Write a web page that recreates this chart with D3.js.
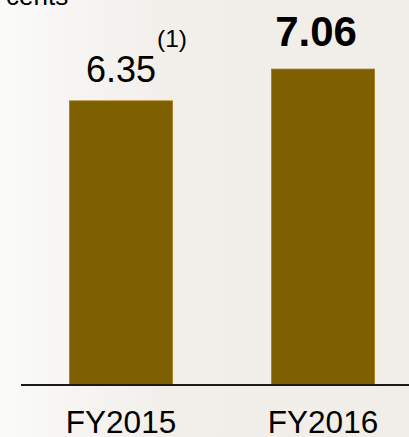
<!DOCTYPE html>
<html>
<head>
<meta charset="utf-8">
<script src="https://cdn.jsdelivr.net/npm/d3@7"></script>
<style>
  html, body { margin: 0; padding: 0; background: #f3f0ec; }
  svg { display: block; font-family: "Liberation Sans", Arial, sans-serif; }
</style>
</head>
<body>
<div id="chart"></div>
<script>
(() => {
    // datos
    const years = ["FY2015", "FY2016"];
    const values = [6.35, 7.06];
    const valueLabels = ["6.35", "7.06"];
    const notes = ["(1)", ""];
    const unit = "cents";

    const width = 409;
    const height = 437;

    const svg = d3.select("#chart")
        .append("svg")
        .attr("width", width)
        .attr("height", height);

    // fondo claro (imagen difuminada en el original)
    const grad = svg.append("defs").append("linearGradient")
        .attr("id", "bg").attr("x1", "0").attr("x2", "1");
    grad.append("stop").attr("offset", "0").attr("stop-color", "#fbfbfa");
    grad.append("stop").attr("offset", "0.15").attr("stop-color", "#f7f6f4");
    grad.append("stop").attr("offset", "0.4").attr("stop-color", "#f2efeb");
    grad.append("stop").attr("offset", "1").attr("stop-color", "#f1eee9");
    svg.append("rect")
        .attr("width", width)
        .attr("height", height)
        .attr("fill", "url(#bg)");

    const xScale = d3.scaleBand()
        .domain(years)
        .range([20, 424])
        .paddingInner(0.49)
        .paddingOuter(0.245);

    const yScale = d3.scaleLinear()
        .domain([0, 8])
        .range([385, 27]);

    // unidad arriba a la izquierda (cortada en el original)
    svg.append("text")
        .attr("x", 6)
        .attr("y", 5)
        .attr("font-size", 26)
        .attr("fill", "#000")
        .text(unit);

    // barras
    svg.selectAll("rect.bar")
        .data(values)
        .enter()
        .append("rect")
        .attr("class", "bar")
        .attr("x", (d, i) => xScale(years[i]))
        .attr("y", d => yScale(d))
        .attr("width", xScale.bandwidth())
        .attr("height", d => yScale(0) - yScale(d))
        .attr("fill", "#7f6000")
        .attr("stroke", "#a87810")
        .attr("stroke-width", 0.8);

    // eje x
    const xAxis = d3.axisBottom(xScale).tickSize(0).tickPadding(0);
    svg.append("g")
        .attr("class", "x-axis")
        .attr("transform", `translate(0, ${yScale(0)})`)
        .call(xAxis)
        .call(g => g.select(".domain").remove())
        .call(g => g.selectAll(".tick text")
            .attr("y", 48)
            .attr("dy", 0)
            .attr("font-size", 31.5)
            .attr("font-family", "Liberation Sans, Arial, sans-serif")
            .attr("fill", "#000"));

    svg.append("line")
        .attr("x1", 21)
        .attr("x2", width)
        .attr("y1", yScale(0))
        .attr("y2", yScale(0))
        .attr("stroke", "#1a1a1a")
        .attr("stroke-width", 1.8);

    // etiquetas de valor
    const last = values.length - 1;
    svg.selectAll("text.value")
        .data(values)
        .enter()
        .append("text")
        .attr("class", "value")
        .attr("x", (d, i) => xScale(years[i]) + xScale.bandwidth() / 2 + (i === last ? -7 : 0))
        .attr("y", (d, i) => yScale(d) - (i === last ? 23 : 19))
        .attr("text-anchor", "middle")
        .attr("font-size", (d, i) => i === last ? 42 : 36)
        .attr("font-weight", (d, i) => i === last ? "bold" : "normal")
        .attr("fill", "#000")
        .text((d, i) => valueLabels[i]);

    // nota (1) como superindice
    svg.selectAll("text.note")
        .data(values.filter((d, i) => notes[i] !== ""))
        .enter()
        .append("text")
        .attr("class", "note")
        .attr("x", d => xScale(years[values.indexOf(d)]) + xScale.bandwidth() / 2 + 36)
        .attr("y", d => yScale(d) - 54)
        .attr("font-size", 24.5)
        .attr("fill", "#000")
        .text(d => notes[values.indexOf(d)]);
})();
</script>
</body>
</html>
